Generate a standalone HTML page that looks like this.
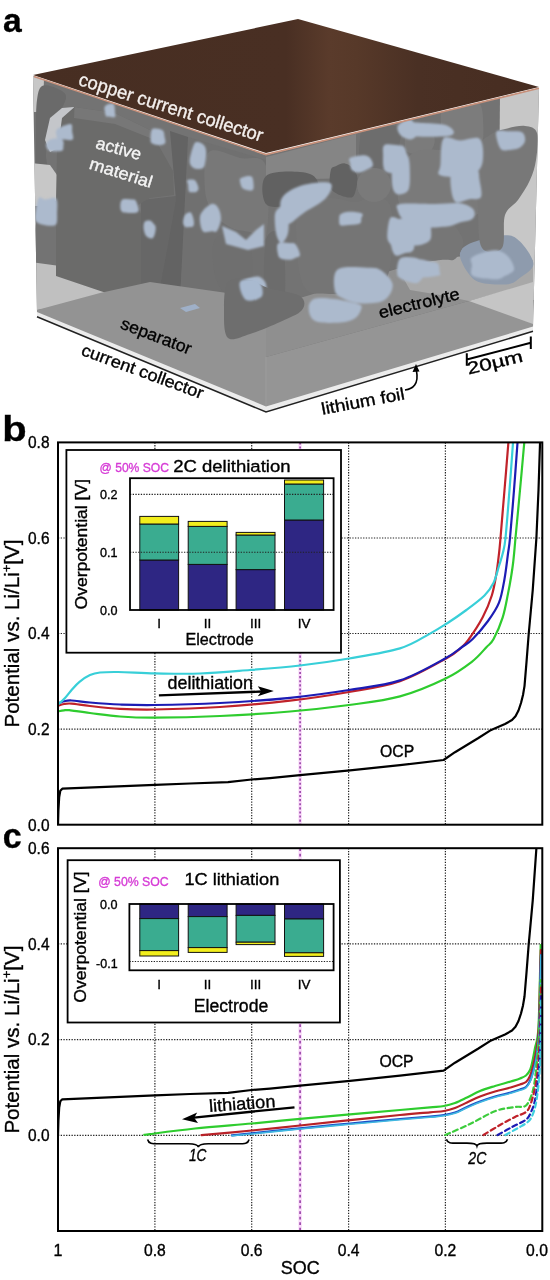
<!DOCTYPE html><html><head><meta charset="utf-8"><style>html,body{margin:0;padding:0;background:#fff;}svg{display:block;will-change:transform}</style></head><body>
<svg width="550" height="1280" viewBox="0 0 550 1280" font-family='"Liberation Sans", sans-serif'>
<rect width="550" height="1280" fill="#fff"/>
<g id="panela">
<defs>
<linearGradient id="topg" x1="33" y1="0" x2="539" y2="0" gradientUnits="userSpaceOnUse">
<stop offset="0" stop-color="#472e22"/>
<stop offset="0.5" stop-color="#492f23"/>
<stop offset="0.585" stop-color="#5a3b2b"/>
<stop offset="0.64" stop-color="#573929"/>
<stop offset="0.76" stop-color="#4a3024"/>
<stop offset="1" stop-color="#472d21"/>
</linearGradient>
<filter id="bl1" x="-30%" y="-30%" width="160%" height="160%"><feGaussianBlur stdDeviation="1.1"/></filter>
<filter id="bl2" x="-30%" y="-30%" width="160%" height="160%"><feGaussianBlur stdDeviation="2"/></filter>
<clipPath id="bodyclip"><path d="M33,76 L266,155 L539,88 L533,328 L266,408 L37,313 Z"/></clipPath>
</defs>
<path d="M33.0,76.0 L266.0,155.0 L539.0,88.0 L533.0,328.0 L266.0,408.0 L37.0,313.0 Z" fill="#737373"/>
<g clip-path="url(#bodyclip)">
<path d="M30.0,75.0 L44.0,79.0 L43.0,110.0 L37.0,112.0 L30.0,112.0 Z" fill="#c7c7c7"/>
<path d="M500.0,96.0 L541.0,87.0 L537.0,300.0 L498.0,300.0 Z" fill="#c7c7c7"/>
<path d="M266.0,300.0 L300.0,298.0 L420.0,262.0 L500.0,255.0 L533.0,262.0 L533.0,283.0 L469.0,301.0 L266.0,357.0 Z" fill="#8f8f8f"/>
<path d="M400.0,272.0 L420.0,260.0 L500.0,253.0 L533.0,260.0 L533.0,283.0 L469.0,301.0 L440.0,295.0 L410.0,290.0 Z" fill="#a8a8a8"/>
<path d="M42.0,86.0 C45.2,84.0 52.0,86.3 56.0,88.0 C60.0,89.7 65.3,92.0 66.0,96.0 C66.7,100.0 62.7,106.3 60.0,112.0 C57.3,117.7 52.3,122.8 50.0,130.0 C47.7,137.2 46.3,148.0 46.0,155.0 C45.7,162.0 49.5,168.5 48.0,172.0 C46.5,175.5 39.0,183.0 37.0,176.0 C35.0,169.0 36.0,142.7 36.0,130.0 C36.0,117.3 36.0,107.3 37.0,100.0 C38.0,92.7 38.8,88.0 42.0,86.0 Z" fill="#6a6a6a"/>
<path d="M50.0,118.0 L62.0,108.0 L74.0,107.0 L72.0,126.0 L62.0,146.0 L50.0,152.0 L45.0,140.0 Z" fill="#c4c6ca"/>
<path d="M30.0,163.0 L50.0,165.0 L57.0,175.0 L58.0,200.0 L45.0,206.0 L30.0,206.0 Z" fill="#c7c7c7"/>
<path d="M36.0,224.0 C38.5,215.7 48.3,219.3 52.0,222.0 C55.7,224.7 57.2,233.3 58.0,240.0 C58.8,246.7 58.7,256.3 57.0,262.0 C55.3,267.7 51.3,272.3 48.0,274.0 C44.7,275.7 39.0,280.3 37.0,272.0 C35.0,263.7 33.5,232.3 36.0,224.0 Z" fill="#737373"/>
<path d="M30.0,262.0 L60.0,266.0 L100.0,280.0 L142.0,292.0 L37.0,310.0 L30.0,310.0 Z" fill="#c0c0c0"/>
<path d="M141.0,200.0 L176.0,196.0 L178.0,240.0 L170.0,300.0 L141.0,300.0 Z" fill="#676767"/>
<path d="M60.0,133.0 L62.0,118.0 L74.5,107.0 L115.0,113.0 L150.0,130.0 L173.0,171.0 L174.0,195.0 L150.0,198.0 L138.0,205.0 L141.0,214.0 L141.0,296.0 L124.0,299.0 L56.0,276.0 L56.0,200.0 L57.0,150.0 Z" fill="#6b6b6a"/>
<path d="M74.5,107.0 L115.0,113.0 L150.0,130.0 L155.0,140.0 L115.0,124.0 L74.0,118.0 Z" fill="#777777"/>
<path d="M170.0,131.0 L188.0,137.0 L190.0,170.0 L185.0,230.0 L180.0,296.0 L158.0,298.0 L168.0,245.0 L176.0,200.0 Z" fill="#636363"/>
<path d="M188.0,137.0 L266.0,160.0 L266.0,300.0 L180.0,300.0 Z" fill="#707070"/>
<path d="M209.0,152.0 C214.8,146.7 230.5,155.7 240.0,158.0 C249.5,160.3 261.7,152.8 266.0,166.0 C270.3,179.2 268.7,226.0 266.0,237.0 C263.3,248.0 255.7,233.5 250.0,232.0 C244.3,230.5 238.0,231.0 232.0,228.0 C226.0,225.0 218.5,220.3 214.0,214.0 C209.5,207.7 205.8,200.3 205.0,190.0 C204.2,179.7 203.2,157.3 209.0,152.0 Z" fill="#787878"/>
<path d="M216.0,238.0 C221.2,232.3 239.0,233.2 245.0,236.0 C251.0,238.8 251.3,246.0 252.0,255.0 C252.7,264.0 253.5,283.7 249.0,290.0 C244.5,296.3 230.8,296.3 225.0,293.0 C219.2,289.7 215.5,279.2 214.0,270.0 C212.5,260.8 210.8,243.7 216.0,238.0 Z" fill="#6f6f6f"/>
<path d="M266.0,157.0 L356.0,134.0 L356.0,178.0 L266.0,180.0 Z" fill="#858585"/>
<path d="M266.0,176.0 C271.7,170.7 291.5,171.3 300.0,172.0 C308.5,172.7 314.2,174.7 317.0,180.0 C319.8,185.3 321.5,199.7 317.0,204.0 C312.5,208.3 298.5,206.0 290.0,206.0 C281.5,206.0 270.0,209.0 266.0,204.0 C262.0,199.0 260.3,181.3 266.0,176.0 Z" fill="#616161"/>
<path d="M266.0,240.0 C268.7,228.8 279.0,228.0 282.0,238.0 C285.0,248.0 286.7,288.8 284.0,300.0 C281.3,311.2 269.0,315.0 266.0,305.0 C263.0,295.0 263.3,251.2 266.0,240.0 Z" fill="#6c6c6c"/>
<path d="M399.6,142.8 C398.7,148.3 397.6,157.3 395.2,161.5 C392.9,165.6 389.8,166.6 385.4,167.7 C381.1,168.7 373.3,169.1 369.0,167.8 C364.8,166.5 361.4,164.5 359.8,159.9 C358.3,155.3 359.2,146.0 359.9,140.0 C360.6,134.0 360.6,126.5 364.1,124.0 C367.6,121.5 374.9,124.3 381.0,125.0 C387.1,125.7 397.6,125.2 400.7,128.2 C403.8,131.1 400.5,137.2 399.6,142.8 Z" fill="#6d6d6d"/>
<path d="M434.8,140.5 C434.7,145.0 432.0,149.7 429.8,152.2 C427.7,154.8 424.4,155.6 421.7,156.0 C419.1,156.3 416.6,155.4 413.9,154.3 C411.2,153.2 407.0,153.1 405.6,149.5 C404.3,145.9 404.6,137.1 405.8,132.6 C406.9,128.2 409.3,124.5 412.4,123.0 C415.5,121.4 421.6,122.9 424.6,123.3 C427.6,123.7 428.7,122.4 430.4,125.2 C432.1,128.1 434.8,136.0 434.8,140.5 Z" fill="#7b7b7b"/>
<path d="M483.4,129.3 C483.4,135.3 483.8,139.3 481.4,142.4 C479.0,145.6 474.8,147.2 469.2,148.0 C463.6,148.8 452.0,148.7 447.7,147.3 C443.4,145.8 444.4,145.0 443.3,139.3 C442.2,133.5 439.6,118.6 441.1,112.7 C442.6,106.9 447.2,105.5 452.3,104.2 C457.5,102.9 467.3,104.5 472.1,104.8 C476.9,105.2 479.2,102.0 481.1,106.1 C483.0,110.1 483.3,123.2 483.4,129.3 Z" fill="#7c7c7c"/>
<path d="M485.1,178.9 C486.4,187.6 489.3,202.1 483.3,209.4 C477.2,216.7 460.6,221.7 448.8,222.6 C437.0,223.6 420.7,218.6 412.3,215.1 C403.9,211.6 400.4,209.0 398.5,201.6 C396.7,194.1 398.0,178.9 401.2,170.4 C404.3,162.0 408.4,154.0 417.4,150.9 C426.3,147.8 445.1,150.7 454.8,151.8 C464.5,152.9 470.6,152.8 475.6,157.3 C480.7,161.8 483.8,170.2 485.1,178.9 Z" fill="#7a7a7a"/>
<path d="M533.4,264.1 C533.4,270.2 523.9,274.8 519.6,278.1 C515.3,281.5 514.1,283.6 507.6,284.3 C501.1,285.0 487.0,284.5 480.3,282.6 C473.7,280.6 471.2,277.5 467.8,272.6 C464.4,267.8 459.0,258.3 459.9,253.3 C460.8,248.2 465.6,245.3 473.0,242.3 C480.4,239.3 496.6,235.3 504.4,235.2 C512.2,235.1 515.1,236.8 520.0,241.6 C524.8,246.4 533.5,258.0 533.4,264.1 Z" fill="#8e9bad"/>
<path d="M463.3,241.5 C463.9,247.4 459.1,255.3 455.7,258.4 C452.3,261.5 449.7,259.4 442.8,259.8 C435.9,260.3 420.2,263.6 414.1,261.2 C408.1,258.8 407.8,250.0 406.5,245.4 C405.2,240.7 405.1,237.2 406.1,233.4 C407.1,229.5 406.7,224.2 412.5,222.1 C418.3,220.1 434.3,220.7 440.9,220.8 C447.5,220.9 448.2,219.4 452.0,222.9 C455.7,226.3 462.6,235.5 463.3,241.5 Z" fill="#767676"/>
<path d="M357.5,178.4 C357.7,182.8 355.7,191.8 354.2,195.0 C352.6,198.2 350.9,197.7 347.9,197.4 C344.9,197.1 339.2,195.2 336.2,193.3 C333.2,191.4 330.8,189.9 329.9,186.0 C329.1,182.1 330.0,173.1 330.9,169.8 C331.9,166.5 333.4,167.3 335.7,166.2 C338.0,165.1 341.9,163.0 344.8,163.4 C347.6,163.7 350.5,165.8 352.6,168.3 C354.7,170.8 357.2,173.9 357.5,178.4 Z" fill="#626262"/>
<path d="M479.0,150.0 C481.0,137.5 485.7,138.5 490.0,135.0 C494.3,131.5 499.2,130.5 505.0,129.0 C510.8,127.5 519.7,125.3 525.0,126.0 C530.3,126.7 535.2,127.3 537.0,133.0 C538.8,138.7 537.2,152.2 536.0,160.0 C534.8,167.8 533.0,173.3 530.0,180.0 C527.0,186.7 522.2,194.2 518.0,200.0 C513.8,205.8 507.7,207.0 505.0,215.0 C502.3,223.0 505.8,242.5 502.0,248.0 C498.2,253.5 486.0,254.3 482.0,248.0 C478.0,241.7 478.5,226.3 478.0,210.0 C477.5,193.7 477.0,162.5 479.0,150.0 Z" fill="#787878"/>
<path d="M300.0,205.0 C305.5,196.3 320.7,198.5 330.0,198.0 C339.3,197.5 349.0,202.3 356.0,202.0 C363.0,201.7 366.3,195.5 372.0,196.0 C377.7,196.5 386.7,197.7 390.0,205.0 C393.3,212.3 392.3,228.3 392.0,240.0 C391.7,251.7 391.3,266.3 388.0,275.0 C384.7,283.7 381.7,288.8 372.0,292.0 C362.3,295.2 341.2,294.7 330.0,294.0 C318.8,293.3 310.5,295.3 305.0,288.0 C299.5,280.7 297.8,263.8 297.0,250.0 C296.2,236.2 294.5,213.7 300.0,205.0 Z" fill="#757575"/>
<circle cx="374" cy="185" r="17" fill="#7a7a7a"/>
<g fill="#acbacd" filter="url(#bl1)">
<path d="M206.2,153.1 C206.3,156.4 205.5,162.6 204.7,165.2 C203.8,167.8 203.2,168.2 201.3,168.7 C199.5,169.2 195.5,169.4 193.6,168.1 C191.6,166.9 189.6,165.0 189.6,161.3 C189.6,157.5 192.2,148.8 193.5,145.6 C194.8,142.4 195.6,142.1 197.4,142.1 C199.3,142.1 202.9,143.8 204.4,145.7 C205.8,147.5 206.2,149.9 206.2,153.1 Z"/>
<path d="M198.5,188.2 C198.6,189.9 197.3,191.0 196.5,191.7 C195.7,192.4 195.0,192.3 193.7,192.2 C192.5,192.2 190.0,192.8 189.0,191.5 C188.1,190.2 188.4,186.3 188.1,184.4 C187.8,182.6 186.5,181.0 187.3,180.2 C188.0,179.4 191.3,179.4 192.7,179.6 C194.1,179.8 194.8,179.9 195.8,181.3 C196.8,182.7 198.4,186.5 198.5,188.2 Z"/>
<path d="M220.9,219.7 C220.6,223.3 218.5,229.0 216.9,230.9 C215.4,232.9 214.0,231.2 211.7,231.3 C209.3,231.3 204.8,233.3 202.8,231.2 C200.8,229.0 199.7,221.8 199.8,218.3 C199.8,214.8 201.1,212.8 203.2,210.4 C205.3,207.9 209.9,204.0 212.5,203.8 C215.1,203.5 217.4,206.2 218.8,208.9 C220.2,211.5 221.2,216.0 220.9,219.7 Z"/>
<path d="M194.0,222.9 C194.0,224.6 193.6,225.7 192.8,226.4 C192.0,227.1 190.3,227.0 189.1,227.1 C187.8,227.2 186.4,227.7 185.4,226.9 C184.4,226.2 183.1,224.6 183.1,222.5 C183.0,220.5 183.9,216.4 185.1,214.7 C186.4,213.0 189.0,212.1 190.3,212.3 C191.5,212.6 192.1,214.5 192.7,216.3 C193.3,218.0 194.0,221.2 194.0,222.9 Z"/>
<path d="M288.7,220.2 C288.6,224.1 288.9,230.5 287.7,234.3 C286.5,238.2 283.4,243.0 281.5,243.2 C279.7,243.4 277.8,239.2 276.6,235.4 C275.5,231.7 274.9,224.9 274.8,220.8 C274.7,216.7 274.5,213.8 276.1,211.1 C277.8,208.4 282.6,204.7 284.7,204.7 C286.7,204.8 287.6,208.6 288.3,211.2 C288.9,213.8 288.8,216.3 288.7,220.2 Z"/>
<path d="M266.3,285.7 C266.6,288.9 266.9,295.2 263.6,297.3 C260.2,299.5 250.5,298.4 246.2,298.6 C241.9,298.8 239.1,300.5 237.7,298.5 C236.3,296.6 237.6,289.5 238.0,286.8 C238.3,284.0 237.0,283.8 239.8,282.1 C242.6,280.4 251.3,277.4 255.0,276.7 C258.6,276.1 259.9,276.8 261.8,278.3 C263.7,279.8 266.0,282.5 266.3,285.7 Z"/>
<path d="M138.7,209.1 C138.9,211.1 138.1,211.9 136.9,212.5 C135.8,213.1 134.2,212.9 131.8,212.9 C129.3,212.8 124.2,213.2 122.3,212.1 C120.4,210.9 120.3,208.2 120.3,206.1 C120.3,204.0 120.5,200.7 122.4,199.6 C124.3,198.5 129.6,199.4 131.8,199.5 C134.0,199.7 134.4,198.8 135.6,200.4 C136.7,202.0 138.5,207.1 138.7,209.1 Z"/>
<path d="M155.7,227.2 C155.9,229.1 155.2,233.0 154.5,234.9 C153.8,236.8 153.1,238.4 151.7,238.5 C150.2,238.7 147.2,237.4 145.9,235.7 C144.6,233.9 143.8,230.5 143.6,228.1 C143.4,225.8 143.8,222.9 144.8,221.6 C145.9,220.4 148.6,220.2 150.0,220.6 C151.5,220.9 152.6,222.6 153.6,223.7 C154.5,224.8 155.6,225.4 155.7,227.2 Z"/>
<path d="M164.5,136.5 C164.9,138.5 166.0,141.7 165.2,143.1 C164.5,144.6 162.0,145.2 159.8,145.2 C157.5,145.2 153.3,144.4 151.7,143.2 C150.2,142.1 150.6,140.6 150.6,138.3 C150.6,136.0 150.8,131.3 151.7,129.7 C152.6,128.0 154.1,128.4 155.9,128.6 C157.8,128.7 161.5,129.3 162.9,130.6 C164.3,131.9 164.1,134.4 164.5,136.5 Z"/>
<path d="M63.3,146.8 C63.2,148.5 63.8,150.0 62.0,150.8 C60.3,151.5 55.0,151.4 52.7,151.3 C50.4,151.2 49.4,151.1 48.3,150.1 C47.1,149.1 46.1,146.9 46.1,145.3 C46.1,143.8 46.9,141.9 48.3,140.8 C49.7,139.6 52.2,138.5 54.6,138.5 C57.1,138.4 61.4,139.0 62.9,140.4 C64.3,141.8 63.4,145.1 63.3,146.8 Z"/>
<path d="M115.0,112.7 C115.1,114.7 116.0,116.4 115.0,117.0 C114.0,117.7 110.3,116.6 108.8,116.5 C107.4,116.5 106.9,117.1 106.2,116.4 C105.6,115.8 105.3,114.4 105.0,112.7 C104.8,111.0 103.8,107.8 104.9,106.3 C105.9,104.8 109.8,103.8 111.4,103.6 C112.9,103.4 113.6,103.5 114.2,105.0 C114.8,106.5 114.9,110.7 115.0,112.7 Z"/>
<path d="M253.5,183.4 C253.7,185.5 253.9,188.3 253.1,189.5 C252.4,190.7 251.1,190.8 249.3,190.6 C247.4,190.3 243.8,189.8 242.2,188.1 C240.7,186.3 239.9,181.7 239.8,180.0 C239.7,178.3 240.4,178.4 241.7,177.7 C243.1,177.1 246.0,176.1 247.7,176.0 C249.4,175.9 251.1,175.8 252.1,177.0 C253.1,178.3 253.3,181.3 253.5,183.4 Z"/>
<path d="M57.1,214.7 C57.1,218.8 57.3,221.8 56.4,223.7 C55.4,225.5 54.2,225.8 51.3,225.7 C48.4,225.7 41.7,224.8 39.0,223.4 C36.2,222.0 35.1,221.7 35.0,217.5 C34.9,213.3 36.9,201.2 38.6,198.3 C40.3,195.3 42.3,199.5 45.2,199.5 C48.2,199.6 54.3,196.1 56.2,198.7 C58.2,201.2 57.0,210.5 57.1,214.7 Z"/>
<path d="M72.1,131.2 C72.3,133.7 74.2,138.1 72.7,139.5 C71.2,140.9 65.6,139.5 63.2,139.6 C60.8,139.7 59.4,141.6 58.2,140.3 C57.0,139.0 55.9,133.8 56.0,131.8 C56.2,129.8 57.3,129.2 59.0,128.0 C60.7,126.9 64.2,125.5 66.3,124.9 C68.4,124.3 70.6,123.5 71.6,124.5 C72.6,125.6 72.0,128.7 72.1,131.2 Z"/>
<path d="M417.3,129.9 C417.8,132.4 417.3,134.4 416.1,136.0 C415.0,137.6 412.9,139.5 410.4,139.4 C407.9,139.4 403.3,137.7 401.1,135.7 C398.9,133.8 397.3,130.0 397.3,127.7 C397.3,125.5 399.5,123.7 401.2,122.4 C403.0,121.1 405.9,119.9 407.8,119.7 C409.8,119.5 411.2,119.5 412.8,121.2 C414.4,122.9 416.7,127.4 417.3,129.9 Z"/>
<path d="M409.8,168.7 C409.9,174.2 410.5,185.1 408.6,189.4 C406.7,193.7 401.1,194.4 398.5,194.4 C395.9,194.4 394.3,192.4 393.2,189.5 C392.1,186.6 391.8,181.7 391.8,177.0 C391.8,172.4 391.4,165.7 393.2,161.6 C395.0,157.5 400.1,153.3 402.6,152.4 C405.0,151.5 406.8,153.5 408.0,156.3 C409.2,159.0 409.7,163.2 409.8,168.7 Z"/>
<path d="M431.2,234.2 C431.2,237.6 431.0,239.8 428.2,241.7 C425.5,243.6 419.6,245.6 414.8,245.6 C410.0,245.6 403.3,244.3 399.3,241.5 C395.4,238.6 391.6,232.1 391.0,228.5 C390.5,224.9 391.7,221.9 396.2,220.1 C400.7,218.2 412.7,217.2 418.1,217.4 C423.6,217.6 426.6,218.4 428.8,221.2 C431.0,224.0 431.3,230.8 431.2,234.2 Z"/>
<path d="M479.5,179.5 C480.1,184.1 482.7,193.7 481.0,197.0 C479.2,200.3 473.5,198.6 469.1,199.3 C464.7,200.0 457.8,204.6 454.7,201.2 C451.6,197.8 450.3,183.9 450.4,179.1 C450.4,174.3 452.8,174.4 455.1,172.4 C457.3,170.3 460.2,167.2 463.9,166.7 C467.5,166.2 474.4,167.2 477.0,169.3 C479.6,171.4 478.8,174.9 479.5,179.5 Z"/>
<path d="M428.3,266.3 C428.5,269.7 423.4,276.9 421.1,279.7 C418.8,282.5 417.9,283.3 414.5,283.1 C411.1,282.9 403.5,280.1 400.6,278.4 C397.7,276.6 397.3,275.8 397.1,272.7 C396.8,269.6 397.5,262.2 399.3,259.6 C401.1,257.0 404.2,257.1 407.7,257.0 C411.1,257.0 416.5,257.8 419.9,259.4 C423.4,260.9 428.1,262.9 428.3,266.3 Z"/>
<path d="M361.6,307.5 C361.4,309.9 358.9,315.6 355.4,318.1 C351.8,320.6 347.2,322.1 340.5,322.6 C333.8,323.1 320.4,323.4 315.1,321.0 C309.8,318.6 308.8,312.0 308.7,308.3 C308.5,304.5 310.2,300.3 314.4,298.7 C318.5,297.2 326.7,298.1 333.7,298.9 C340.8,299.7 351.9,302.1 356.6,303.5 C361.2,305.0 361.8,305.1 361.6,307.5 Z"/>
<path d="M439.6,271.4 C439.7,273.5 441.7,274.6 438.7,275.6 C435.6,276.6 425.5,277.6 421.0,277.7 C416.6,277.8 413.7,277.0 412.1,276.0 C410.4,275.1 411.0,274.0 411.1,271.9 C411.2,269.8 409.8,265.1 412.7,263.5 C415.7,261.8 424.4,261.7 428.6,261.7 C432.7,261.7 436.0,261.9 437.8,263.5 C439.6,265.1 439.4,269.4 439.6,271.4 Z"/>
<path d="M469.7,218.3 C468.6,220.8 463.0,221.4 459.2,222.8 C455.4,224.2 453.6,225.8 446.8,226.5 C440.1,227.2 424.4,228.6 418.5,226.8 C412.5,225.0 411.1,219.0 410.9,215.7 C410.8,212.4 412.8,208.6 417.6,207.3 C422.4,206.0 431.5,207.7 439.5,207.9 C447.5,208.0 460.6,206.4 465.7,208.2 C470.7,209.9 470.8,215.9 469.7,218.3 Z"/>
<path d="M525.0,141.1 C524.5,143.7 522.2,146.4 519.3,148.0 C516.3,149.5 510.5,150.0 507.4,150.2 C504.4,150.4 502.6,150.9 500.8,149.0 C499.1,147.2 497.5,142.3 496.9,139.3 C496.3,136.3 495.1,132.3 497.3,131.0 C499.4,129.6 505.6,131.0 509.8,131.3 C514.0,131.5 519.8,130.8 522.3,132.4 C524.9,134.0 525.5,138.5 525.0,141.1 Z"/>
<path d="M514.1,269.2 C513.6,272.6 507.9,274.4 504.8,276.1 C501.8,277.8 501.0,279.4 495.7,279.3 C490.4,279.3 476.9,278.4 473.0,276.0 C469.0,273.6 472.1,268.2 472.0,265.0 C471.9,261.8 468.8,259.3 472.5,256.9 C476.2,254.4 488.4,250.3 494.2,250.2 C500.1,250.0 504.3,252.7 507.6,255.9 C510.9,259.0 514.5,265.8 514.1,269.2 Z"/>
<path d="M482.9,159.6 C482.4,165.2 480.7,169.7 476.2,172.5 C471.8,175.4 462.4,176.5 456.2,176.9 C450.1,177.3 441.9,176.7 439.3,174.8 C436.7,172.9 439.7,171.3 440.4,165.3 C441.1,159.3 440.1,142.8 443.4,138.7 C446.7,134.5 454.2,140.4 460.2,140.4 C466.3,140.5 475.9,135.7 479.7,138.9 C483.5,142.1 483.5,154.0 482.9,159.6 Z"/>
<path d="M474.0,210.5 C475.2,213.4 475.9,218.8 468.1,220.8 C460.2,222.8 437.5,222.4 427.0,222.4 C416.6,222.5 410.3,223.0 405.4,220.9 C400.4,218.8 398.2,212.6 397.5,209.8 C396.8,206.9 394.8,204.8 401.2,203.8 C407.6,202.8 425.8,204.0 435.7,203.9 C445.6,203.8 454.2,202.2 460.6,203.3 C467.0,204.4 472.7,207.5 474.0,210.5 Z"/>
<path d="M406.9,156.7 C407.1,159.9 407.0,163.7 405.3,166.3 C403.6,169.0 400.4,171.9 396.9,172.6 C393.5,173.3 387.1,173.4 384.8,170.4 C382.5,167.4 383.1,158.9 383.1,154.7 C383.1,150.4 382.2,146.5 384.6,144.9 C387.1,143.4 394.7,144.9 397.9,145.3 C401.2,145.6 402.7,145.1 404.2,147.1 C405.7,149.0 406.7,153.5 406.9,156.7 Z"/>
<path d="M414.3,244.9 C414.2,249.4 413.5,250.0 411.9,251.4 C410.4,252.7 407.9,252.2 405.1,252.9 C402.4,253.5 397.6,256.9 395.3,255.2 C392.9,253.6 391.1,247.3 391.1,242.9 C391.2,238.5 393.3,231.7 395.4,228.8 C397.5,225.8 400.8,226.0 403.7,225.2 C406.6,224.4 411.2,220.8 412.9,224.1 C414.7,227.4 414.5,240.3 414.3,244.9 Z"/>
<path d="M453.7,131.2 C454.3,133.1 453.7,135.1 447.6,136.0 C441.5,136.8 423.9,136.9 417.2,136.5 C410.5,136.0 410.1,135.0 407.2,133.5 C404.2,132.0 400.0,129.5 399.7,127.6 C399.3,125.8 401.6,123.3 405.2,122.5 C408.8,121.7 414.6,122.5 421.2,122.9 C427.7,123.2 438.9,123.3 444.3,124.7 C449.7,126.1 453.2,129.3 453.7,131.2 Z"/>
<path d="M436.1,268.2 C436.6,270.2 438.3,273.6 435.6,274.8 C432.9,276.1 423.4,275.7 419.7,275.6 C416.0,275.4 414.9,275.2 413.4,273.9 C411.9,272.7 410.6,269.7 410.6,268.0 C410.7,266.2 412.0,265.1 413.5,263.7 C415.1,262.3 416.8,259.6 420.1,259.5 C423.3,259.4 430.2,261.5 432.9,263.0 C435.6,264.4 435.7,266.2 436.1,268.2 Z"/>
<path d="M300.0,255.1 C299.9,257.3 296.5,257.4 294.8,258.2 C293.1,259.0 291.9,259.7 289.6,259.8 C287.2,259.8 282.7,259.4 280.8,258.4 C278.8,257.4 278.3,256.2 277.9,253.7 C277.4,251.2 276.2,245.3 278.1,243.5 C280.1,241.7 286.6,242.9 289.5,243.1 C292.5,243.3 294.0,242.5 295.7,244.5 C297.5,246.5 300.2,252.8 300.0,255.1 Z"/>
<path d="M361.3,218.2 C360.9,219.9 362.0,222.4 359.6,223.6 C357.2,224.8 350.1,225.0 346.8,225.3 C343.6,225.5 341.3,226.4 340.1,225.1 C338.8,223.8 339.2,219.1 339.3,217.3 C339.5,215.5 339.4,215.0 340.9,214.1 C342.5,213.2 345.3,211.9 348.8,211.8 C352.2,211.6 359.8,212.3 361.9,213.4 C364.0,214.4 361.7,216.5 361.3,218.2 Z"/>
<path d="M403.8,238.8 C404.2,243.1 406.4,245.4 404.9,247.7 C403.4,249.9 397.0,252.5 394.7,252.2 C392.5,251.9 392.8,248.4 391.6,245.9 C390.3,243.4 387.5,241.9 387.3,237.3 C387.1,232.6 388.3,221.0 390.3,218.0 C392.3,215.1 397.4,218.7 399.3,219.3 C401.3,219.9 401.3,218.6 402.0,221.8 C402.7,225.1 403.3,234.5 403.8,238.8 Z"/>
<path d="M392.7,284.7 C393.1,289.7 389.1,297.5 383.7,300.6 C378.2,303.7 366.7,303.7 359.9,303.3 C353.1,302.9 347.0,300.5 342.8,298.2 C338.6,296.0 335.5,294.7 334.7,289.9 C333.8,285.1 332.5,273.0 337.9,269.3 C343.4,265.6 360.2,267.6 367.4,267.7 C374.6,267.9 376.7,267.5 380.9,270.3 C385.1,273.2 392.2,279.6 392.7,284.7 Z"/>
<path d="M372.9,165.2 C372.7,166.9 370.9,167.6 368.7,168.8 C366.4,170.1 362.3,172.4 359.5,172.6 C356.7,172.8 353.4,171.6 351.8,170.0 C350.3,168.5 350.5,165.3 350.2,163.3 C349.9,161.3 347.9,159.3 350.2,157.9 C352.5,156.6 360.5,155.3 363.9,155.3 C367.2,155.4 368.7,156.7 370.3,158.3 C371.8,159.9 373.2,163.4 372.9,165.2 Z"/>
<path d="M222.0,226.0 L236.0,232.0 L246.0,240.0 L256.0,230.0 L264.0,224.0 L264.0,246.0 L248.0,250.0 L226.0,244.0 Z"/>
<path d="M281.0,200.0 C283.3,193.7 291.8,188.8 300.0,186.0 C308.2,183.2 325.7,181.0 330.0,183.0 C334.3,185.0 330.2,193.2 326.0,198.0 C321.8,202.8 311.7,207.7 305.0,212.0 C298.3,216.3 290.0,226.0 286.0,224.0 C282.0,222.0 278.7,206.3 281.0,200.0 Z"/>
</g>
<path d="M37.0,310.0 L100.0,293.0 L150.0,282.0 L234.0,294.0 L266.0,300.0 L266.0,357.0 L266.0,408.0 L37.0,313.0 Z" fill="#939393"/>
<path d="M266.0,357.0 L469.0,301.0 L533.0,283.0 L533.0,330.0 L266.0,408.0 Z" fill="#959595"/>
<path d="M469.0,301.0 L533.0,282.0 L533.0,324.0 Z" fill="#c5c5c5"/>
<path d="M266,357 L266,406" stroke="#9c9c9c" stroke-width="1"/>
<path d="M228.0,282.0 C232.3,276.7 243.3,279.0 250.0,280.0 C256.7,281.0 259.7,285.3 268.0,288.0 C276.3,290.7 294.3,292.3 300.0,296.0 C305.7,299.7 305.3,305.7 302.0,310.0 C298.7,314.3 288.7,318.0 280.0,322.0 C271.3,326.0 258.7,331.3 250.0,334.0 C241.3,336.7 232.3,341.7 228.0,338.0 C223.7,334.3 224.0,321.3 224.0,312.0 C224.0,302.7 223.7,287.3 228.0,282.0 Z" fill="#6e6e6e"/>
<path d="M240.0,282.0 C242.0,278.7 254.3,277.7 258.0,280.0 C261.7,282.3 264.0,292.7 262.0,296.0 C260.0,299.3 249.7,302.3 246.0,300.0 C242.3,297.7 238.0,285.3 240.0,282.0 Z" fill="#a9bad0" filter="url(#bl1)"/>
<path d="M180.0,308.0 L195.0,304.0 L200.0,308.0 L186.0,312.0 Z" fill="#9fb0c8"/>
</g>
<path d="M37.0,312.0 L266.0,406.5 L533.0,326.5 L533.0,331.0 L266.0,411.5 L37.0,316.5 Z" fill="#ececec"/>
<path d="M37,316.8 L266,412 L533,331.3" fill="none" stroke="#222" stroke-width="1.5"/>
<path d="M33,75 L298,19 L539,87 L266,153 Z" fill="url(#topg)"/>
<path d="M34,76.5 L266,154.6 L539,88.3" fill="none" stroke="#c8907a" stroke-width="1.6"/>
<text transform="translate(77.6,84.8) rotate(17.3)" font-size="18.5" fill="#f4f0ee" textLength="192" lengthAdjust="spacingAndGlyphs" stroke="#f4f0ee" stroke-width="0.35">copper current collector</text>
<text transform="translate(94.7,147.9) rotate(15.3)" font-size="17" fill="#f4f4f4" textLength="46.6" lengthAdjust="spacingAndGlyphs" stroke="#f4f4f4" stroke-width="0.35">active</text>
<text transform="translate(88.2,168.4) rotate(17.5)" font-size="17" fill="#f4f4f4" textLength="65.2" lengthAdjust="spacingAndGlyphs" stroke="#f4f4f4" stroke-width="0.35">material</text>
<text transform="translate(119.6,328) rotate(21)" font-size="17" fill="#000" textLength="74.4" lengthAdjust="spacingAndGlyphs" stroke="#000" stroke-width="0.35">separator</text>
<text transform="translate(80.2,354.7) rotate(20.1)" font-size="17" fill="#000" textLength="128.8" lengthAdjust="spacingAndGlyphs" stroke="#000" stroke-width="0.35">current collector</text>
<text transform="translate(380.3,318.5) rotate(-13.8)" font-size="17" fill="#000" textLength="82.7" lengthAdjust="spacingAndGlyphs" stroke="#000" stroke-width="0.35">electrolyte</text>
<text transform="translate(322.5,414.7) rotate(-10.6)" font-size="17" fill="#000" textLength="84.3" lengthAdjust="spacingAndGlyphs" stroke="#000" stroke-width="0.35">lithium foil</text>
<text transform="translate(468.5,374.6) rotate(-13.5)" font-size="17" fill="#000" textLength="56.9" lengthAdjust="spacingAndGlyphs" stroke="#000" stroke-width="0.35">20µm</text>
<path d="M466.8,353.2 L466.8,365.7 M466.8,359.5 L530.8,342.8 M530.8,336.5 L530.8,349" fill="none" stroke="#000" stroke-width="2"/>
<path d="M405,390 C413,389 419,384 416.5,371" fill="none" stroke="#000" stroke-width="1.6"/>
<path d="M416,364 L412.5,372 L419.5,371.5 Z" fill="#000"/>
</g>
<g id="chartb">
<line x1="154.9" y1="442.4" x2="154.9" y2="824.7" stroke="#222" stroke-width="1.2" stroke-dasharray="1.3,1.4"/>
<line x1="251.7" y1="442.4" x2="251.7" y2="824.7" stroke="#222" stroke-width="1.2" stroke-dasharray="1.3,1.4"/>
<line x1="348.6" y1="442.4" x2="348.6" y2="824.7" stroke="#222" stroke-width="1.2" stroke-dasharray="1.3,1.4"/>
<line x1="445.4" y1="442.4" x2="445.4" y2="824.7" stroke="#222" stroke-width="1.2" stroke-dasharray="1.3,1.4"/>
<line x1="58.0" y1="729.1" x2="542.3" y2="729.1" stroke="#222" stroke-width="1.2" stroke-dasharray="1.3,1.4"/>
<line x1="58.0" y1="633.5" x2="542.3" y2="633.5" stroke="#222" stroke-width="1.2" stroke-dasharray="1.3,1.4"/>
<line x1="58.0" y1="538.0" x2="542.3" y2="538.0" stroke="#222" stroke-width="1.2" stroke-dasharray="1.3,1.4"/>
<line x1="300.1" y1="442.4" x2="300.1" y2="824.7" stroke="#fadcfa" stroke-width="3.6"/>
<line x1="300.1" y1="442.4" x2="300.1" y2="824.7" stroke="#9c48ac" stroke-width="1.7" stroke-dasharray="2.1,2"/>
<clipPath id="clipb"><rect x="58" y="442.4" width="484.3" height="382.3"/></clipPath>
<g clip-path="url(#clipb)" fill="none" stroke-width="2.2" stroke-linejoin="round" stroke-linecap="round">
<path d="M58.0,711.4 C59.0,711.2 62.1,710.5 64.0,710.3 C65.9,710.1 65.0,709.8 69.3,710.2 C73.6,710.7 81.5,712.0 90.0,713.0 C98.5,714.0 109.2,715.7 120.0,716.5 C130.8,717.3 137.8,717.8 154.5,717.7 C171.2,717.6 197.4,717.0 220.0,716.0 C242.6,715.0 268.5,713.3 290.0,711.5 C311.5,709.7 330.7,707.5 349.0,705.0 C367.3,702.5 383.9,700.8 400.0,696.4 C416.1,692.0 433.7,684.3 445.7,678.5 C457.7,672.7 465.0,667.0 471.8,661.8 C478.6,656.6 482.8,651.0 486.4,647.2 C490.0,643.4 490.9,644.0 493.6,639.0 C496.3,634.0 500.3,624.9 502.7,617.3 C505.1,609.7 506.3,602.1 508.0,593.6 C509.7,585.1 511.5,575.3 512.7,566.0 C514.0,556.7 514.3,550.7 515.5,538.0 C516.7,525.3 518.5,506.3 520.0,490.0 C521.5,473.7 523.8,448.3 524.5,440.0" stroke="#2ecc2e"/>
<path d="M58.0,705.7 C59.0,705.4 61.7,704.4 64.0,704.0 C66.3,703.6 67.3,703.3 71.6,703.6 C75.9,703.9 81.9,705.1 90.0,706.0 C98.1,706.9 109.2,708.2 120.0,708.8 C130.8,709.4 137.8,709.8 154.5,709.5 C171.2,709.2 197.4,708.5 220.0,707.0 C242.6,705.5 268.5,703.2 290.0,700.7 C311.5,698.2 330.7,695.2 349.0,692.0 C367.3,688.8 383.9,686.8 400.0,681.2 C416.1,675.7 435.5,664.3 445.7,658.7 C455.9,653.1 457.5,650.8 461.4,647.5 C465.3,644.2 465.4,644.0 469.0,639.0 C472.6,634.0 478.9,624.5 482.7,617.3 C486.5,610.0 489.5,602.8 491.8,595.5 C494.1,588.2 495.2,580.6 496.4,573.6 C497.6,566.6 498.3,559.5 499.0,553.6 C499.7,547.7 499.6,548.6 500.5,538.0 C501.4,527.4 503.1,506.3 504.5,490.0 C505.9,473.7 507.9,448.3 508.6,440.0" stroke="#c0222a"/>
<path d="M58.0,703.4 C59.0,703.0 61.7,701.8 64.0,701.3 C66.3,700.8 67.3,700.3 71.6,700.5 C75.9,700.7 81.9,701.8 90.0,702.5 C98.1,703.2 109.2,704.1 120.0,704.5 C130.8,704.9 137.8,705.2 154.5,705.0 C171.2,704.8 197.4,704.2 220.0,703.0 C242.6,701.8 268.5,700.0 290.0,697.8 C311.5,695.6 330.7,692.9 349.0,690.0 C367.3,687.1 384.0,685.6 400.0,680.4 C416.0,675.1 434.7,664.1 445.0,658.5 C455.3,652.9 457.4,650.2 462.0,647.0 C466.6,643.8 468.4,643.3 472.7,639.0 C477.0,634.7 483.6,627.0 488.0,621.0 C492.4,615.0 496.2,609.7 499.0,602.7 C501.8,595.7 503.0,587.2 504.5,579.0 C506.0,570.8 507.1,560.4 508.0,553.6 C508.9,546.8 509.0,548.6 510.0,538.0 C511.0,527.4 512.7,506.3 514.0,490.0 C515.3,473.7 517.1,448.3 517.7,440.0" stroke="#1c1cb4"/>
<path d="M58.0,704.5 C59.2,703.4 62.7,700.5 65.0,698.0 C67.3,695.5 69.6,692.2 72.0,689.5 C74.4,686.8 76.5,684.2 79.5,681.8 C82.5,679.4 86.6,676.5 90.0,675.0 C93.4,673.5 95.3,673.0 100.0,672.5 C104.7,672.0 108.8,671.9 118.0,672.0 C127.2,672.1 141.3,673.1 155.0,673.4 C168.7,673.6 184.2,674.1 200.0,673.5 C215.8,672.9 233.3,671.3 250.0,670.0 C266.7,668.7 283.5,667.4 300.0,665.5 C316.5,663.6 332.3,661.4 349.0,658.5 C365.7,655.6 386.5,652.5 400.0,648.4 C413.5,644.2 422.0,637.9 430.0,633.6 C438.0,629.3 441.9,626.6 448.0,622.7 C454.1,618.8 460.3,614.5 466.4,610.0 C472.5,605.5 480.0,600.0 484.5,595.5 C489.0,591.0 491.2,587.6 493.6,582.7 C496.0,577.8 497.5,570.9 499.0,566.0 C500.5,561.1 501.6,558.3 502.7,553.6 C503.8,548.9 504.4,548.6 505.5,538.0 C506.6,527.4 508.2,506.3 509.5,490.0 C510.8,473.7 512.6,448.3 513.2,440.0" stroke="#38cfd8"/>
<path d="M58.0,824.7 L58.4,810.4 L59.2,797.0 L60.3,790.8 L62.3,788.7 L155.0,784.9 L190.0,783.5 L228.0,782.2 L251.6,779.5 L270.0,778.1 L300.0,775.2 L350.0,770.3 L400.0,765.2 L443.6,760.0 L455.0,752.2 L478.0,738.3 L490.0,730.6 L505.0,724.0 L512.0,720.0 L515.5,716.2 L518.5,710.5 L521.0,703.0 L523.0,695.0 L524.5,686.1 L526.5,662.2 L528.7,634.0 L532.7,590.5 L536.4,538.0 L538.5,490.2 L540.2,437.6" stroke="#000" stroke-width="2.2"/>
</g>
<rect x="58.0" y="442.4" width="484.3" height="382.3" fill="none" stroke="#000" stroke-width="2"/>
<text x="49.5" y="448.2" font-size="16" text-anchor="end" textLength="21.5" lengthAdjust="spacingAndGlyphs" stroke="#000" stroke-width="0.35">0.8</text>
<text x="49.5" y="543.8" font-size="16" text-anchor="end" textLength="21.5" lengthAdjust="spacingAndGlyphs" stroke="#000" stroke-width="0.35">0.6</text>
<text x="49.5" y="639.3" font-size="16" text-anchor="end" textLength="21.5" lengthAdjust="spacingAndGlyphs" stroke="#000" stroke-width="0.35">0.4</text>
<text x="49.5" y="734.9" font-size="16" text-anchor="end" textLength="21.5" lengthAdjust="spacingAndGlyphs" stroke="#000" stroke-width="0.35">0.2</text>
<text x="49.5" y="830.5" font-size="16" text-anchor="end" textLength="21.5" lengthAdjust="spacingAndGlyphs" stroke="#000" stroke-width="0.35">0.0</text>
</g>
<g id="chartc">
<line x1="154.9" y1="848.2" x2="154.9" y2="1231.0" stroke="#222" stroke-width="1.2" stroke-dasharray="1.3,1.4"/>
<line x1="251.7" y1="848.2" x2="251.7" y2="1231.0" stroke="#222" stroke-width="1.2" stroke-dasharray="1.3,1.4"/>
<line x1="348.6" y1="848.2" x2="348.6" y2="1231.0" stroke="#222" stroke-width="1.2" stroke-dasharray="1.3,1.4"/>
<line x1="445.4" y1="848.2" x2="445.4" y2="1231.0" stroke="#222" stroke-width="1.2" stroke-dasharray="1.3,1.4"/>
<line x1="58.0" y1="1135.3" x2="542.3" y2="1135.3" stroke="#222" stroke-width="1.2" stroke-dasharray="1.3,1.4"/>
<line x1="58.0" y1="1039.6" x2="542.3" y2="1039.6" stroke="#222" stroke-width="1.2" stroke-dasharray="1.3,1.4"/>
<line x1="58.0" y1="943.9" x2="542.3" y2="943.9" stroke="#222" stroke-width="1.2" stroke-dasharray="1.3,1.4"/>
<line x1="300.1" y1="848.2" x2="300.1" y2="1231.0" stroke="#fadcfa" stroke-width="3.6"/>
<line x1="300.1" y1="848.2" x2="300.1" y2="1231.0" stroke="#9c48ac" stroke-width="1.7" stroke-dasharray="2.9,2.6"/>
<clipPath id="clipc"><rect x="58" y="848.2" width="484.3" height="382.8"/></clipPath>
<g clip-path="url(#clipc)" fill="none" stroke-width="2.2" stroke-linejoin="round" stroke-linecap="round">
<path d="M144.4,1134.8 C145.3,1134.7 141.6,1135.1 150.0,1134.1 C158.4,1133.0 178.1,1130.3 195.0,1128.5 C211.9,1126.7 234.2,1125.1 251.7,1123.5 C269.2,1121.9 283.6,1120.3 300.0,1118.8 C316.4,1117.3 333.3,1115.9 350.0,1114.4 C366.7,1112.9 386.7,1111.2 400.0,1110.0 C413.3,1108.8 422.7,1108.1 430.0,1107.4 C437.3,1106.7 439.8,1106.7 444.0,1106.0 C448.2,1105.3 451.2,1104.4 455.0,1103.0 C458.8,1101.6 462.8,1099.5 467.0,1097.5 C471.2,1095.5 475.3,1092.9 480.0,1091.0 C484.7,1089.1 489.9,1087.6 495.0,1086.0 C500.1,1084.4 506.5,1082.8 510.7,1081.5 C514.9,1080.2 517.5,1079.5 520.0,1078.5 C522.5,1077.5 524.3,1076.9 526.0,1075.5 C527.7,1074.1 528.9,1072.4 530.0,1070.0 C531.1,1067.6 531.7,1064.7 532.5,1061.0 C533.3,1057.3 534.0,1053.4 535.0,1048.0 C536.0,1042.6 537.5,1042.6 538.4,1028.4 C539.3,1014.2 539.9,976.7 540.3,962.8 C540.7,948.9 540.6,948.0 540.7,945.0" stroke="#2ecc2e"/>
<path d="M201.5,1135.1 C209.9,1134.3 235.3,1132.1 251.7,1130.5 C268.1,1128.9 283.6,1127.2 300.0,1125.5 C316.4,1123.8 333.3,1122.0 350.0,1120.2 C366.7,1118.5 386.7,1116.3 400.0,1115.0 C413.3,1113.7 422.7,1113.0 430.0,1112.3 C437.3,1111.6 439.8,1111.7 444.0,1111.0 C448.2,1110.3 451.2,1109.4 455.0,1108.0 C458.8,1106.6 462.8,1104.4 467.0,1102.5 C471.2,1100.6 475.3,1098.3 480.0,1096.5 C484.7,1094.7 489.9,1093.0 495.0,1091.5 C500.1,1090.0 506.5,1088.7 510.7,1087.5 C514.9,1086.3 517.5,1085.4 520.0,1084.5 C522.5,1083.6 524.3,1083.4 526.0,1082.0 C527.7,1080.6 528.8,1078.7 530.0,1076.0 C531.2,1073.3 532.0,1070.0 533.0,1066.0 C534.0,1062.0 535.0,1058.3 536.0,1052.0 C537.0,1045.7 538.1,1042.5 538.8,1028.0 C539.5,1013.5 540.1,978.0 540.4,965.0 C540.7,952.0 540.7,952.5 540.8,950.0" stroke="#b82228"/>
<path d="M232.0,1135.4 C235.3,1135.1 240.4,1134.5 251.7,1133.3 C263.0,1132.1 283.6,1129.9 300.0,1128.3 C316.4,1126.7 333.3,1125.0 350.0,1123.5 C366.7,1122.0 386.7,1120.2 400.0,1119.0 C413.3,1117.8 422.7,1117.2 430.0,1116.5 C437.3,1115.8 439.8,1115.7 444.0,1115.0 C448.2,1114.3 451.2,1113.8 455.0,1112.5 C458.8,1111.2 462.8,1108.8 467.0,1107.0 C471.2,1105.2 475.3,1103.2 480.0,1101.5 C484.7,1099.8 489.9,1098.0 495.0,1096.5 C500.1,1095.0 506.5,1093.7 510.7,1092.5 C514.9,1091.3 517.5,1090.4 520.0,1089.5 C522.5,1088.6 524.3,1088.4 526.0,1087.0 C527.7,1085.6 528.8,1083.5 530.0,1081.0 C531.2,1078.5 531.9,1076.2 533.0,1072.0 C534.1,1067.8 535.5,1063.0 536.5,1056.0 C537.5,1049.0 538.5,1044.3 539.2,1030.0 C539.9,1015.7 540.3,982.5 540.6,970.0 C540.9,957.5 540.9,957.5 541.0,955.0" stroke="#1c50c8"/>
<path d="M232.0,1135.8 C235.3,1135.5 240.4,1135.1 251.7,1134.0 C263.0,1132.9 283.6,1130.6 300.0,1129.0 C316.4,1127.4 333.3,1125.8 350.0,1124.3 C366.7,1122.8 386.7,1121.0 400.0,1119.8 C413.3,1118.6 422.7,1118.0 430.0,1117.3 C437.3,1116.6 439.8,1116.5 444.0,1115.8 C448.2,1115.1 451.2,1114.6 455.0,1113.3 C458.8,1112.0 462.8,1109.6 467.0,1107.8 C471.2,1106.0 475.3,1104.0 480.0,1102.3 C484.7,1100.5 489.9,1098.8 495.0,1097.3 C500.1,1095.8 506.5,1094.5 510.7,1093.3 C514.9,1092.1 517.5,1091.2 520.0,1090.3 C522.5,1089.4 524.3,1089.2 526.0,1087.8 C527.7,1086.4 528.8,1084.5 530.0,1082.0 C531.2,1079.5 531.9,1077.2 533.0,1073.0 C534.1,1068.8 535.5,1064.0 536.5,1057.0 C537.5,1050.0 538.5,1045.5 539.2,1031.0 C539.9,1016.5 540.3,982.7 540.6,970.0 C540.9,957.3 540.9,957.5 541.0,955.0" stroke="#40b8e0" stroke-width="1.6"/>
<path d="M445.3,1135.0 C449.4,1133.2 461.6,1128.0 470.0,1124.0 C478.4,1120.0 488.0,1113.8 495.5,1111.0 C503.0,1108.2 509.9,1107.9 515.0,1107.0 C520.1,1106.1 523.1,1108.0 526.0,1105.5 C528.9,1103.0 530.9,1097.1 532.5,1092.0 C534.1,1086.9 534.7,1081.2 535.5,1075.0 C536.3,1068.8 536.9,1062.5 537.5,1055.0 C538.1,1047.5 538.8,1042.5 539.3,1030.0 C539.8,1017.5 540.4,988.3 540.6,980.0" stroke="#3ccc3c" stroke-dasharray="5,3.5"/>
<path d="M483.5,1135.0 C486.2,1133.3 494.8,1128.0 500.0,1125.0 C505.2,1122.0 510.7,1119.2 515.0,1117.0 C519.3,1114.8 523.3,1114.3 526.0,1112.0 C528.7,1109.7 529.4,1107.7 531.0,1103.0 C532.6,1098.3 534.5,1090.8 535.8,1083.6 C537.0,1076.4 537.8,1068.9 538.5,1060.0 C539.2,1051.1 539.6,1042.5 540.0,1030.0 C540.4,1017.5 540.8,992.5 540.9,985.0" stroke="#c0222a" stroke-dasharray="5,3.5"/>
<path d="M497.6,1135.0 C500.0,1133.7 507.3,1129.6 512.0,1127.0 C516.7,1124.4 522.8,1122.1 526.0,1119.6 C529.2,1117.1 529.5,1115.3 531.0,1112.0 C532.5,1108.7 533.8,1106.2 535.0,1100.0 C536.2,1093.8 537.6,1084.2 538.5,1075.0 C539.4,1065.8 539.8,1058.3 540.2,1045.0 C540.6,1031.7 540.9,1003.3 541.0,995.0" stroke="#1c1cb4" stroke-dasharray="5,3.5"/>
<path d="M505.3,1135.0 C507.4,1133.8 514.2,1130.2 518.0,1128.0 C521.8,1125.8 525.6,1124.0 528.0,1121.8 C530.4,1119.6 531.2,1118.1 532.5,1115.0 C533.8,1111.9 534.9,1108.8 536.0,1103.0 C537.1,1097.2 538.2,1088.8 539.0,1080.0 C539.8,1071.2 540.1,1063.3 540.5,1050.0 C540.9,1036.7 541.1,1008.3 541.2,1000.0" stroke="#40d0e0" stroke-dasharray="5,3.5"/>
<path d="M58.0,1135.3 L58.4,1120.9 L59.2,1107.5 L60.3,1101.3 L62.3,1099.3 L155.0,1095.4 L190.0,1094.0 L228.0,1092.8 L251.6,1090.0 L270.0,1088.6 L300.0,1085.7 L350.0,1080.8 L400.0,1075.7 L443.6,1070.6 L455.0,1062.7 L478.0,1048.8 L490.0,1041.1 L505.0,1034.5 L512.0,1030.5 L515.5,1026.7 L518.5,1021.0 L521.0,1013.5 L523.0,1005.4 L524.5,996.5 L526.5,972.6 L528.7,944.4 L532.7,900.8 L536.4,848.2 L538.5,800.4 L540.2,747.7" stroke="#000" stroke-width="2.2"/>
</g>
<rect x="58.0" y="848.2" width="484.3" height="382.8" fill="none" stroke="#000" stroke-width="2"/>
<text x="49.5" y="854.0" font-size="16" text-anchor="end" textLength="21.5" lengthAdjust="spacingAndGlyphs" stroke="#000" stroke-width="0.35">0.6</text>
<text x="49.5" y="949.7" font-size="16" text-anchor="end" textLength="21.5" lengthAdjust="spacingAndGlyphs" stroke="#000" stroke-width="0.35">0.4</text>
<text x="49.5" y="1045.4" font-size="16" text-anchor="end" textLength="21.5" lengthAdjust="spacingAndGlyphs" stroke="#000" stroke-width="0.35">0.2</text>
<text x="49.5" y="1141.1" font-size="16" text-anchor="end" textLength="21.5" lengthAdjust="spacingAndGlyphs" stroke="#000" stroke-width="0.35">0.0</text>
<text x="58.0" y="1255.7" font-size="16" text-anchor="middle" stroke="#000" stroke-width="0.35">1</text>
<text x="154.9" y="1255.7" font-size="16" text-anchor="middle" textLength="21.8" lengthAdjust="spacingAndGlyphs" stroke="#000" stroke-width="0.35">0.8</text>
<text x="251.7" y="1255.7" font-size="16" text-anchor="middle" textLength="21.8" lengthAdjust="spacingAndGlyphs" stroke="#000" stroke-width="0.35">0.6</text>
<text x="348.6" y="1255.7" font-size="16" text-anchor="middle" textLength="21.8" lengthAdjust="spacingAndGlyphs" stroke="#000" stroke-width="0.35">0.4</text>
<text x="445.4" y="1255.7" font-size="16" text-anchor="middle" textLength="21.8" lengthAdjust="spacingAndGlyphs" stroke="#000" stroke-width="0.35">0.2</text>
<text x="537.0" y="1255.7" font-size="16" text-anchor="middle" textLength="21.8" lengthAdjust="spacingAndGlyphs" stroke="#000" stroke-width="0.35">0.0</text>
<text x="300.3" y="1274.3" font-size="19.2" text-anchor="middle" textLength="39" lengthAdjust="spacingAndGlyphs" stroke="#000" stroke-width="0.35">SOC</text>
</g>
<g id="insetb">
<rect x="66.4" y="450" width="274.6" height="202.7" fill="#fff" stroke="#000" stroke-width="1.8"/>
<text x="99.5" y="472" font-size="12.8" fill="#d63cd6" textLength="69.5" lengthAdjust="spacingAndGlyphs" stroke="#d63cd6" stroke-width="0.35">@ 50% SOC</text>
<text x="173.2" y="472" font-size="17.2" textLength="117.3" lengthAdjust="spacingAndGlyphs" stroke="#000" stroke-width="0.35">2C delithiation</text>
<rect x="139.8" y="560.0" width="38.8" height="50.0" fill="#2e2683" stroke="#111" stroke-width="1"/>
<rect x="139.8" y="524.0" width="38.8" height="36.0" fill="#3aac90" stroke="#111" stroke-width="1"/>
<rect x="139.8" y="516.4" width="38.8" height="7.6" fill="#f2ee1c" stroke="#111" stroke-width="1"/>
<rect x="188.2" y="564.4" width="38.9" height="45.6" fill="#2e2683" stroke="#111" stroke-width="1"/>
<rect x="188.2" y="526.4" width="38.9" height="38.0" fill="#3aac90" stroke="#111" stroke-width="1"/>
<rect x="188.2" y="521.4" width="38.9" height="5.0" fill="#f2ee1c" stroke="#111" stroke-width="1"/>
<rect x="236.1" y="569.6" width="38.9" height="40.4" fill="#2e2683" stroke="#111" stroke-width="1"/>
<rect x="236.1" y="535.0" width="38.9" height="34.6" fill="#3aac90" stroke="#111" stroke-width="1"/>
<rect x="236.1" y="532.4" width="38.9" height="2.6" fill="#f2ee1c" stroke="#111" stroke-width="1"/>
<rect x="284.5" y="520.0" width="39.1" height="90.0" fill="#2e2683" stroke="#111" stroke-width="1"/>
<rect x="284.5" y="484.0" width="39.1" height="36.0" fill="#3aac90" stroke="#111" stroke-width="1"/>
<rect x="284.5" y="480.0" width="39.1" height="4.0" fill="#f2ee1c" stroke="#111" stroke-width="1"/>
<line x1="130" y1="552.3" x2="333.6" y2="552.3" stroke="#222" stroke-width="1.1" stroke-dasharray="1.3,1.4"/>
<line x1="130" y1="494.4" x2="333.6" y2="494.4" stroke="#222" stroke-width="1.1" stroke-dasharray="1.3,1.4"/>
<rect x="130" y="478.2" width="203.6" height="131.8" fill="none" stroke="#000" stroke-width="1.8"/>
<text x="117.6" y="614.6" font-size="12.5" text-anchor="end" textLength="17.5" lengthAdjust="spacingAndGlyphs" stroke="#000" stroke-width="0.35">0.0</text>
<text x="117.6" y="556.9" font-size="12.5" text-anchor="end" textLength="17.5" lengthAdjust="spacingAndGlyphs" stroke="#000" stroke-width="0.35">0.1</text>
<text x="117.6" y="499.0" font-size="12.5" text-anchor="end" textLength="17.5" lengthAdjust="spacingAndGlyphs" stroke="#000" stroke-width="0.35">0.2</text>
<text x="159.2" y="628.3" font-size="13.5" text-anchor="middle" stroke="#000" stroke-width="0.35">I</text>
<text x="207.6" y="628.3" font-size="13.5" text-anchor="middle" stroke="#000" stroke-width="0.35">II</text>
<text x="255.6" y="628.3" font-size="13.5" text-anchor="middle" stroke="#000" stroke-width="0.35">III</text>
<text x="304.1" y="628.3" font-size="13.5" text-anchor="middle" stroke="#000" stroke-width="0.35">IV</text>
<text x="219.6" y="645" font-size="17" text-anchor="middle" textLength="68.2" lengthAdjust="spacingAndGlyphs" stroke="#000" stroke-width="0.35">Electrode</text>
<text transform="translate(87.4,544.2) rotate(-90)" font-size="17" text-anchor="middle" textLength="130.5" lengthAdjust="spacingAndGlyphs" stroke="#000" stroke-width="0.35">Overpotential [V]</text>
</g>
<g id="insetc">
<rect x="67.6" y="860.2" width="272.3" height="162.3" fill="#fff" stroke="#000" stroke-width="1.8"/>
<text x="98.2" y="885.5" font-size="12.8" fill="#d63cd6" textLength="70.5" lengthAdjust="spacingAndGlyphs" stroke="#d63cd6" stroke-width="0.35">@ 50% SOC</text>
<text x="184.4" y="884.6" font-size="17.2" textLength="94.9" lengthAdjust="spacingAndGlyphs" stroke="#000" stroke-width="0.35">1C lithiation</text>
<rect x="139.8" y="904.0" width="38.8" height="14.6" fill="#2e2683" stroke="#111" stroke-width="1"/>
<rect x="139.8" y="918.6" width="38.8" height="32.0" fill="#3aac90" stroke="#111" stroke-width="1"/>
<rect x="139.8" y="950.6" width="38.8" height="5.4" fill="#f2ee1c" stroke="#111" stroke-width="1"/>
<rect x="188.2" y="904.0" width="38.9" height="12.6" fill="#2e2683" stroke="#111" stroke-width="1"/>
<rect x="188.2" y="916.6" width="38.9" height="31.0" fill="#3aac90" stroke="#111" stroke-width="1"/>
<rect x="188.2" y="947.6" width="38.9" height="4.8" fill="#f2ee1c" stroke="#111" stroke-width="1"/>
<rect x="236.1" y="904.0" width="38.9" height="11.4" fill="#2e2683" stroke="#111" stroke-width="1"/>
<rect x="236.1" y="915.4" width="38.9" height="26.8" fill="#3aac90" stroke="#111" stroke-width="1"/>
<rect x="236.1" y="942.2" width="38.9" height="2.4" fill="#f2ee1c" stroke="#111" stroke-width="1"/>
<rect x="284.5" y="904.0" width="39.1" height="15.0" fill="#2e2683" stroke="#111" stroke-width="1"/>
<rect x="284.5" y="919.0" width="39.1" height="33.8" fill="#3aac90" stroke="#111" stroke-width="1"/>
<rect x="284.5" y="952.8" width="39.1" height="3.6" fill="#f2ee1c" stroke="#111" stroke-width="1"/>
<line x1="129.4" y1="961.5" x2="333.6" y2="961.5" stroke="#222" stroke-width="1.1" stroke-dasharray="1.3,1.4"/>
<rect x="129.4" y="904" width="204.2" height="66.3" fill="none" stroke="#000" stroke-width="1.8"/>
<text x="117.6" y="909.1" font-size="12.5" text-anchor="end" textLength="17.5" lengthAdjust="spacingAndGlyphs" stroke="#000" stroke-width="0.35">0.0</text>
<text x="117.6" y="967.8" font-size="12.5" text-anchor="end" textLength="21.5" lengthAdjust="spacingAndGlyphs" stroke="#000" stroke-width="0.35">-0.1</text>
<text x="159.2" y="988.5" font-size="13.5" text-anchor="middle" stroke="#000" stroke-width="0.35">I</text>
<text x="207.6" y="988.5" font-size="13.5" text-anchor="middle" stroke="#000" stroke-width="0.35">II</text>
<text x="255.6" y="988.5" font-size="13.5" text-anchor="middle" stroke="#000" stroke-width="0.35">III</text>
<text x="304.1" y="988.5" font-size="13.5" text-anchor="middle" stroke="#000" stroke-width="0.35">IV</text>
<text x="231" y="1011.6" font-size="18" text-anchor="middle" textLength="74.5" lengthAdjust="spacingAndGlyphs" stroke="#000" stroke-width="0.35">Electrode</text>
<text transform="translate(86.3,937.2) rotate(-90)" font-size="17" text-anchor="middle" textLength="131" lengthAdjust="spacingAndGlyphs" stroke="#000" stroke-width="0.35">Overpotential [V]</text>
</g>
<text x="3" y="31.6" font-size="34" font-weight="bold" textLength="18.7" lengthAdjust="spacingAndGlyphs" stroke="#000" stroke-width="0.35">a</text>
<text x="2.3" y="440.8" font-size="34.5" font-weight="bold" textLength="24.4" lengthAdjust="spacingAndGlyphs" stroke="#000" stroke-width="0.35">b</text>
<text x="2.8" y="847.5" font-size="34.5" font-weight="bold" textLength="18.9" lengthAdjust="spacingAndGlyphs" stroke="#000" stroke-width="0.35">c</text>
<text transform="translate(18.6,633.5) rotate(-90)" font-size="20.4" text-anchor="middle" textLength="188" lengthAdjust="spacingAndGlyphs" stroke="#000" stroke-width="0.35">Potential vs. Li/Li<tspan font-size="13" dy="-8">+</tspan><tspan dy="8">[V]</tspan></text>
<text transform="translate(18.6,1039.6) rotate(-90)" font-size="20.4" text-anchor="middle" textLength="188" lengthAdjust="spacingAndGlyphs" stroke="#000" stroke-width="0.35">Potential vs. Li/Li<tspan font-size="13" dy="-8">+</tspan><tspan dy="8">[V]</tspan></text>
<text x="167.6" y="688.9" font-size="17.8" textLength="85.3" lengthAdjust="spacingAndGlyphs" stroke="#000" stroke-width="0.35">delithiation</text>
<line x1="158.9" y1="695.4" x2="262" y2="691.5" stroke="#000" stroke-width="2.3"/>
<path d="M273.8,690.9 L257.8,686.2 L261.3,691.4 L257.8,696.3 Z" fill="#000"/>
<text x="380" y="756.9" font-size="16" textLength="34.2" lengthAdjust="spacingAndGlyphs" stroke="#000" stroke-width="0.35">OCP</text>
<text x="379.4" y="1066.9" font-size="16" textLength="34.2" lengthAdjust="spacingAndGlyphs" stroke="#000" stroke-width="0.35">OCP</text>
<text transform="translate(209.4,1112) rotate(-4.2)" font-size="17.5" textLength="66.5" lengthAdjust="spacingAndGlyphs" stroke="#000" stroke-width="0.35">lithiation</text>
<line x1="294.5" y1="1107.3" x2="194" y2="1117.6" stroke="#000" stroke-width="2.3"/>
<path d="M182,1119.3 L197.2,1112.6 L194.2,1117.8 L198,1123 Z" fill="#000"/>
<path d="M147.6,1139.5 C148.6,1143.75 151.6,1143.75 159.6,1143.75 L188.35,1143.75 C195.35,1143.75 197.85,1144.75 198.35,1147 C198.85,1144.75 201.35,1143.75 208.35,1143.75 L237.1,1143.75 C245.1,1143.75 248.1,1143.75 249.1,1139.5" fill="none" stroke="#000" stroke-width="1.6"/>
<path d="M446.4,1139.3 C447.4,1143.15 450.4,1143.15 458.4,1143.15 L466.95,1143.15 C473.95,1143.15 476.45,1144.15 476.95,1146 C477.45,1144.15 479.95,1143.15 486.95,1143.15 L495.5,1143.15 C503.5,1143.15 506.5,1143.15 507.5,1139.3" fill="none" stroke="#000" stroke-width="1.6"/>
<text x="189" y="1161" font-size="16.5" font-style="italic" textLength="17.5" lengthAdjust="spacingAndGlyphs" stroke="#000" stroke-width="0.35">1C</text>
<text x="468.3" y="1164" font-size="16.5" font-style="italic" textLength="18" lengthAdjust="spacingAndGlyphs" stroke="#000" stroke-width="0.35">2C</text>
</svg></body></html>
